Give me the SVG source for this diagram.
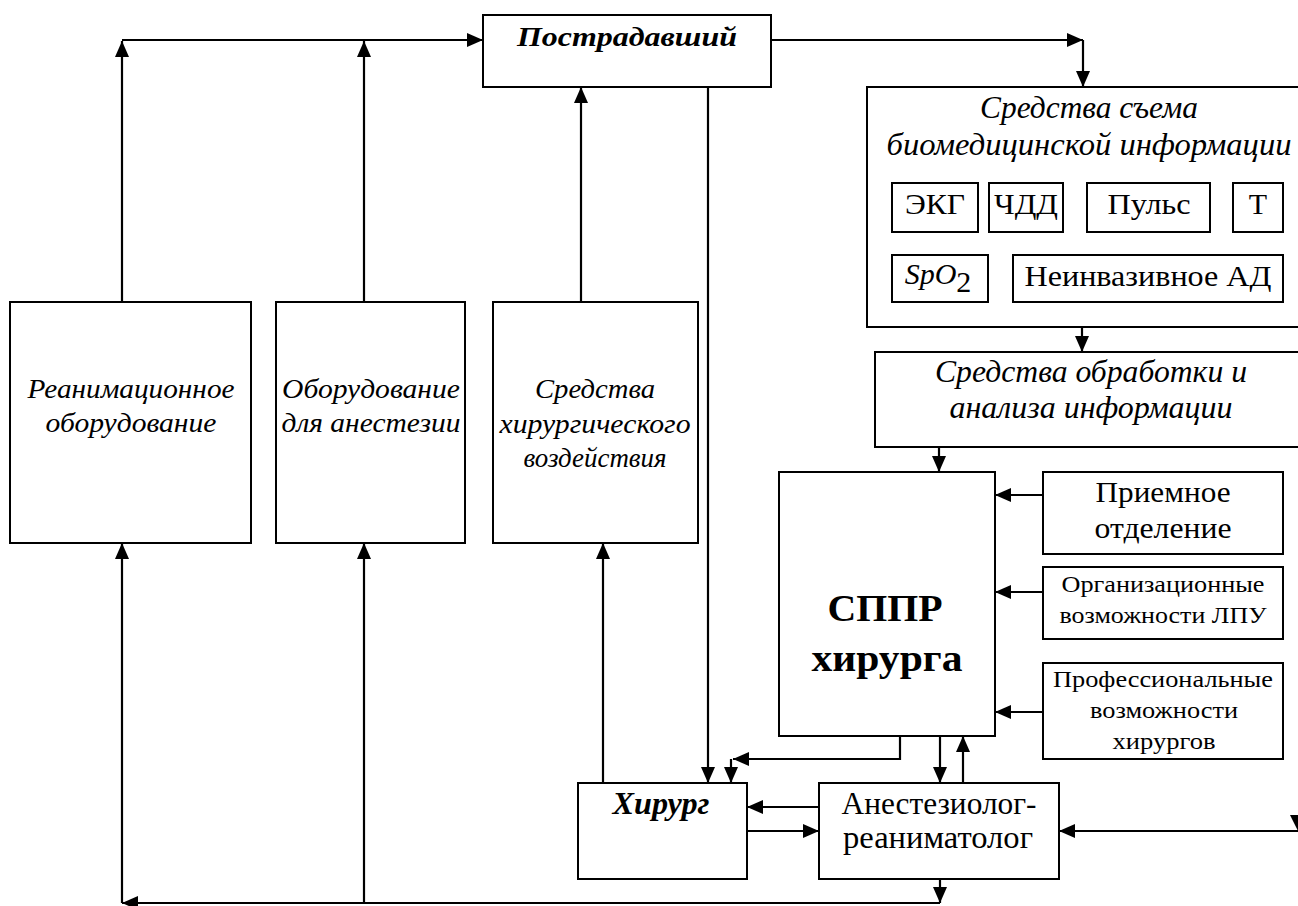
<svg xmlns="http://www.w3.org/2000/svg" width="1298" height="906" viewBox="0 0 1298 906" font-family="Liberation Serif, Tinos, DejaVu Serif, serif">
<defs>
<marker id="ah" markerWidth="16" markerHeight="14" refX="16" refY="7" orient="auto" markerUnits="userSpaceOnUse"><path d="M0,0 L16,7 L0,14 z" fill="#000"/></marker>
</defs>
<style>
.box{fill:#fff;stroke:#000;stroke-width:2}
.ln{fill:none;stroke:#000;stroke-width:2.2}
.arr{marker-end:url(#ah)}
text{font-family:'Liberation Serif',Tinos,'DejaVu Serif',serif;fill:#000;text-anchor:middle}
.it{font-style:italic}
.b{font-weight:bold}
</style>
<rect width="1298" height="906" fill="#fff"/>
<g id="connectors">
<path class="ln arr" d="M122,302 L122,41"/>
<path class="ln arr" d="M122,40 L483,40"/>
<path class="ln arr" d="M364,302 L364,41"/>
<path class="ln arr" d="M581,302 L581,87"/>
<path class="ln arr" d="M771,40 L1083,40"/>
<path class="ln arr" d="M1083,40 L1083,87"/>
<path class="ln arr" d="M1082,327 L1082,352"/>
<path class="ln arr" d="M939,447 L939,472"/>
<path class="ln arr" d="M1043,495 L995,495"/>
<path class="ln arr" d="M1043,592 L995,592"/>
<path class="ln arr" d="M1043,712 L995,712"/>
<path class="ln arr" d="M708,87 L708,783"/>
<path class="ln arr" d="M900,736 L900,759 L733,759"/>
<path class="ln arr" d="M731,759 L731,783"/>
<path class="ln arr" d="M940,736 L940,783"/>
<path class="ln arr" d="M963,783 L963,736"/>
<path class="ln arr" d="M819,807 L747,807"/>
<path class="ln arr" d="M747,831 L819,831"/>
<path class="ln arr" d="M1300,831 L1059,831"/>
<polygon points="1290,815 1306,815 1298,831" fill="#000"/>
<path class="ln arr" d="M940,879 L940,903"/>
<path class="ln arr" d="M940,903 L122,903"/>
<path class="ln arr" d="M122,903 L122,543"/>
<path class="ln arr" d="M364,903 L364,543"/>
<path class="ln arr" d="M603,783 L603,543"/>
</g>
<g id="postradavshiy">
<rect class="box" x="483" y="15" width="288" height="72"/>
<text class="it b" x="627" y="46" font-size="28" textLength="220" lengthAdjust="spacingAndGlyphs">Пострадавший</text>
</g>
<g id="sredstva-sema">
<rect class="box" x="867" y="87" width="445" height="240"/>
<text class="it" x="1089" y="118" font-size="32" textLength="218" lengthAdjust="spacingAndGlyphs">Средства съема</text>
<text class="it" x="1089" y="155" font-size="32" textLength="405" lengthAdjust="spacingAndGlyphs">биомедицинской информации</text>
</g>
<g id="ekg"><rect class="box" x="892" y="183" width="86" height="49"/><text x="935" y="214" font-size="30" textLength="60" lengthAdjust="spacingAndGlyphs">ЭКГ</text></g>
<g id="chdd"><rect class="box" x="989" y="183" width="74" height="49"/><text x="1026" y="214" font-size="30" textLength="64" lengthAdjust="spacingAndGlyphs">ЧДД</text></g>
<g id="puls"><rect class="box" x="1087" y="183" width="123" height="49"/><text x="1149" y="214" font-size="30" textLength="83" lengthAdjust="spacingAndGlyphs">Пульс</text></g>
<g id="t"><rect class="box" x="1233" y="183" width="50" height="49"/><text x="1258" y="214" font-size="30">Т</text></g>
<g id="spo2"><rect class="box" x="892" y="255" width="96" height="47"/><text x="938" y="284" font-size="30"><tspan class="it">SpO</tspan><tspan dy="8">2</tspan></text></g>
<g id="niad"><rect class="box" x="1013" y="255" width="270" height="47"/><text x="1148" y="286" font-size="30" textLength="247" lengthAdjust="spacingAndGlyphs">Неинвазивное АД</text></g>
<g id="obrabotka">
<rect class="box" x="875" y="352" width="437" height="95"/>
<text class="it" x="1091" y="382" font-size="32" textLength="312" lengthAdjust="spacingAndGlyphs">Средства обработки и</text>
<text class="it" x="1091" y="418" font-size="32" textLength="283" lengthAdjust="spacingAndGlyphs">анализа информации</text>
</g>
<g id="reanim">
<rect class="box" x="10" y="302" width="241" height="241"/>
<text class="it" x="131" y="398" font-size="27" textLength="207" lengthAdjust="spacingAndGlyphs">Реанимационное</text>
<text class="it" x="131" y="432" font-size="27" textLength="171" lengthAdjust="spacingAndGlyphs">оборудование</text>
</g>
<g id="anest-equip">
<rect class="box" x="276" y="302" width="189" height="241"/>
<text class="it" x="371" y="398" font-size="27" textLength="178" lengthAdjust="spacingAndGlyphs">Оборудование</text>
<text class="it" x="371" y="432" font-size="27" textLength="179" lengthAdjust="spacingAndGlyphs">для анестезии</text>
</g>
<g id="surg-means">
<rect class="box" x="493" y="302" width="205" height="241"/>
<text class="it" x="595" y="398" font-size="27" textLength="120" lengthAdjust="spacingAndGlyphs">Средства</text>
<text class="it" x="595" y="433" font-size="27" textLength="191" lengthAdjust="spacingAndGlyphs">хирургического</text>
<text class="it" x="595" y="467" font-size="27" textLength="143" lengthAdjust="spacingAndGlyphs">воздействия</text>
</g>
<g id="sppr">
<rect class="box" x="779" y="472" width="216" height="264"/>
<text class="b" x="885" y="621" font-size="38" textLength="115" lengthAdjust="spacingAndGlyphs">СППР</text>
<text class="b" x="887" y="671" font-size="38" textLength="151" lengthAdjust="spacingAndGlyphs">хирурга</text>
</g>
<g id="priem">
<rect class="box" x="1043" y="472" width="240" height="82"/>
<text x="1163" y="502" font-size="30" textLength="135" lengthAdjust="spacingAndGlyphs">Приемное</text>
<text x="1163" y="538" font-size="30" textLength="137" lengthAdjust="spacingAndGlyphs">отделение</text>
</g>
<g id="org">
<rect class="box" x="1043" y="567" width="240" height="72"/>
<text x="1163" y="592" font-size="23" textLength="203" lengthAdjust="spacingAndGlyphs">Организационные</text>
<text x="1163" y="623" font-size="23" textLength="207" lengthAdjust="spacingAndGlyphs">возможности ЛПУ</text>
</g>
<g id="prof">
<rect class="box" x="1043" y="663" width="240" height="96"/>
<text x="1163" y="687" font-size="23" textLength="220" lengthAdjust="spacingAndGlyphs">Профессиональные</text>
<text x="1164" y="718" font-size="23" textLength="148" lengthAdjust="spacingAndGlyphs">возможности</text>
<text x="1164" y="749" font-size="23" textLength="103" lengthAdjust="spacingAndGlyphs">хирургов</text>
</g>
<g id="hirurg">
<rect class="box" x="578" y="783" width="169" height="96"/>
<text class="it b" x="661" y="814" font-size="31" textLength="97" lengthAdjust="spacingAndGlyphs">Хирург</text>
</g>
<g id="anesteziolog">
<rect class="box" x="819" y="783" width="240" height="96"/>
<text x="939" y="814" font-size="31" textLength="195" lengthAdjust="spacingAndGlyphs">Анестезиолог-</text>
<text x="938" y="848" font-size="31" textLength="190" lengthAdjust="spacingAndGlyphs">реаниматолог</text>
</g>
</svg>
